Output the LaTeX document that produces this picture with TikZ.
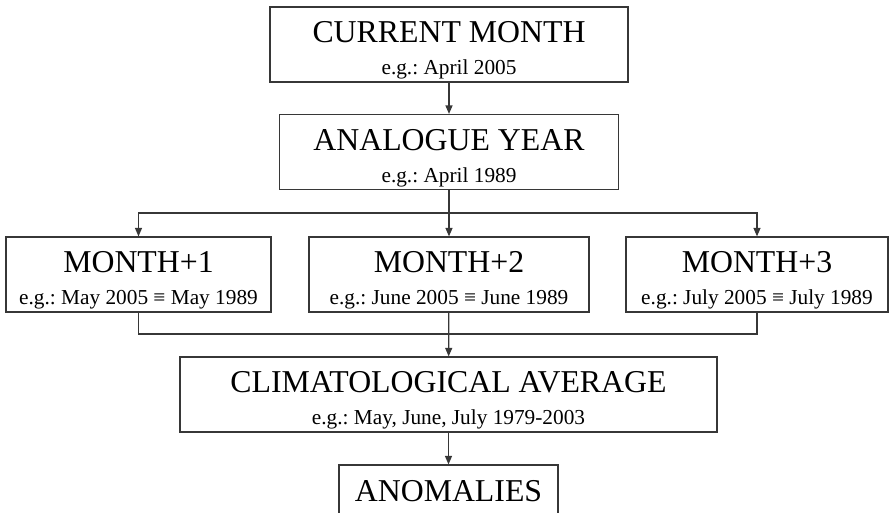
\documentclass[tikz,border=0pt]{standalone}
\usepackage{fontspec}
\setmainfont{Liberation Serif}
\usetikzlibrary{arrows.meta}
\definecolor{edge}{RGB}{55,55,55}
\newcommand{\headfont}{\fontsize{31.8}{32}\selectfont}
\newcommand{\notefont}{\fontsize{21.3}{32}\selectfont}
\frenchspacing

\begin{document}
\begin{tikzpicture}[x=1pt,y=-1pt,
        box/.style={draw=edge, line width=1.2pt, minimum height=75pt, inner sep=0pt,
            align=center, font=\notefont},
        link/.style={draw=edge, line width=1.2pt},
        arr/.style={link, -{Triangle[length=8.5pt,width=7pt]}}]
        \useasboundingbox (0,0) rectangle (889,512);
        \clip (0,0) rectangle (889,512);
        \def\headstrut{\rule{0pt}{33pt}}

        % forecast chain
        \node[box, minimum width=358pt] (cur) at (449,44.5)
            {\headfont\headstrut CURRENT MONTH\\e.g.: April 2005};
        \node[box, minimum width=339pt] (ana) at (449,152)
            {\headfont\headstrut ANALOGUE YEAR\\e.g.: April 1989};
        \node[box, minimum width=265pt] (m1) at (138.5,274.5)
            {\headfont\headstrut MONTH+1\\e.g.: May 2005 ≡ May 1989};
        \node[box, minimum width=280pt] (m2) at (449,274.5)
            {\headfont\headstrut MONTH+2\\e.g.: June 2005 ≡ June 1989};
        \node[box, minimum width=262pt] (m3) at (757,274.5)
            {\headfont\headstrut MONTH+3\\e.g.: July 2005 ≡ July 1989};
        \node[box, minimum width=537pt] (clim) at (448.5,394.5)
            {\headfont\headstrut CLIMATOLOGICAL AVERAGE\\e.g.: May, June, July 1979-2003};
        \node[box, minimum width=219pt, text height=32.6pt, text depth=35.6pt] (anom) at (448.5,502.5)
            {\headfont ANOMALIES};

        \coordinate (split) at (449,213);
        \coordinate (join) at (449,334);

        \draw[arr] (cur) -- (ana);
        \draw[arr] (ana) -- (m2);
        \draw[arr] (split) -| (m1.north);
        \draw[arr] (split) -| (m3.north);
        \draw[link] (m1.south) |- (join) -| (m3.south);
        \draw[arr] (m2) -- (clim);
        \draw[arr] (clim) -- (anom);
\end{tikzpicture}
\end{document}
